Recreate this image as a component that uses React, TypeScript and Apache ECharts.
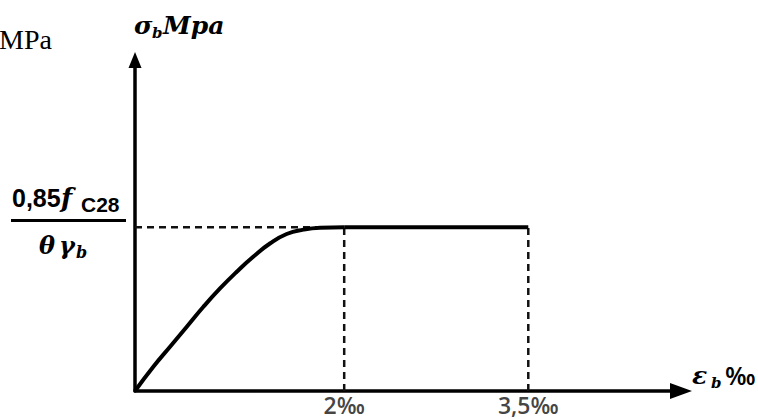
import React, { useEffect, useRef } from "react";
import * as echarts from "echarts";

// Parabola part of the diagram (strain in drawing units where 2 = 2‰, stress normalised to the plateau)
const strain = [0, 0.175, 0.335, 0.495, 0.654, 0.813, 0.973, 1.13, 1.29, 1.45, 1.61, 1.77, 2.0];
const stress = [0, 0.148, 0.27, 0.392, 0.514, 0.626, 0.728, 0.819, 0.9, 0.958, 0.985, 0.997, 1.0];
// Rectangle (plateau) part
const plateauStrain = [2, 3.76];
const plateauStress = [1, 1];
// Tick marks on the strain axis
const tickStrain = [2, 3.76];
const tickLabels = ["2‰", "3,5‰"];

const MATH = "'DejaVu Serif', serif";
const SANS = "'Liberation Sans', Arial, sans-serif";
const LABEL = "'Open Sans', 'Liberation Sans', sans-serif";

export default function App() {
  const ref = useRef<HTMLDivElement>(null);
  useEffect(() => {
    if (!ref.current) return;
    const chart = echarts.init(ref.current, undefined, { renderer: "svg" });
    const curve = strain.map((x, i) => [x, stress[i]]);
    const plateau = plateauStrain.map((x, i) => [x, plateauStress[i]]);
    const dashStyle = { color: "#111", width: 2.5, type: [7, 5] as any };
    const t = (text: string, x: number, y: number, size: number, family: string, extra: any = {}) => ({
      type: "text",
      x,
      y,
      style: {
        text,
        fontSize: size,
        fontFamily: family,
        fill: "#000",
        verticalAlign: "middle",
        ...extra,
      },
    });
    const mathStyle = { fontStyle: "italic", fontWeight: "bold" };
    chart.setOption({
      animation: false,
      backgroundColor: "#fff",
      grid: { left: 135, top: 60, width: 546, height: 331 },
      xAxis: {
        type: "value",
        min: 0,
        max: 5.22,
        axisLine: {
          show: true,
          onZero: false,
          symbol: ["none", "triangle"],
          symbolSize: [16, 22],
          lineStyle: { color: "#000", width: 3.5 },
        },
        axisTick: { show: false },
        axisLabel: { show: false },
        splitLine: { show: false },
      },
      yAxis: {
        type: "value",
        min: 0,
        max: 2.02,
        axisLine: {
          show: true,
          onZero: false,
          symbol: ["none", "triangle"],
          symbolSize: [13, 16],
          lineStyle: { color: "#000", width: 3.5 },
        },
        axisTick: { show: false },
        axisLabel: { show: false },
        splitLine: { show: false },
      },
      series: [
        {
          type: "line",
          data: [[0, plateauStress[0]], [tickStrain[0], plateauStress[0]]],
          showSymbol: false,
          clip: false,
          lineStyle: dashStyle,
        },
        ...tickStrain.map((x) => ({
          type: "line",
          data: [[x, 0], [x, plateauStress[0]]],
          showSymbol: false,
          clip: false,
          lineStyle: dashStyle,
        })),
        {
          type: "line",
          data: curve,
          smooth: 0.5,
          showSymbol: false,
          clip: false,
          lineStyle: { color: "#000", width: 4 },
        },
        {
          type: "line",
          data: plateau,
          showSymbol: false,
          clip: false,
          lineStyle: { color: "#000", width: 4 },
        },
        {
          type: "scatter",
          symbolSize: 0,
          data: tickStrain.map((x, i) => [x, 0, tickLabels[i]]),
          label: {
            show: true,
            position: "bottom",
            distance: 2,
            formatter: (p: any) => p.value[2],
            fontFamily: LABEL,
            fontWeight: 600,
            fontSize: 23,
            color: "#111",
          },
        },
      ],
      graphic: [
        t("MPa", -1, 39, 28, "'Liberation Serif', 'Times New Roman', serif"),
        t("σ", 134, 25, 25, MATH, mathStyle),
        t("b", 152, 33, 15, MATH, mathStyle),
        t("Mpa", 163, 25, 25, MATH, mathStyle),
        t("0,85", 12, 198, 25, SANS, { fontWeight: "bold" }),
        t("f", 61, 198, 26, MATH, mathStyle),
        t("C28", 81, 204, 21, SANS, { fontWeight: "bold" }),
        { type: "rect", shape: { x: 11, y: 219, width: 115, height: 3 }, style: { fill: "#000" } },
        t("θ", 39, 245, 24, MATH, mathStyle),
        t("γ", 59, 245, 24, MATH, mathStyle),
        t("b", 76, 252, 16, MATH, mathStyle),
        t("ε", 692, 375, 25, MATH, mathStyle),
        t("b", 711, 383, 15, MATH, mathStyle),
        t("‰", 725, 375, 25, LABEL, { fontWeight: 600 }),
      ],
    });
    return () => chart.dispose();
  }, []);
  return (
    <div
      ref={ref}
      style={{ position: "fixed", left: 0, top: 0, width: 758, height: 419 }}
    />
  );
}
